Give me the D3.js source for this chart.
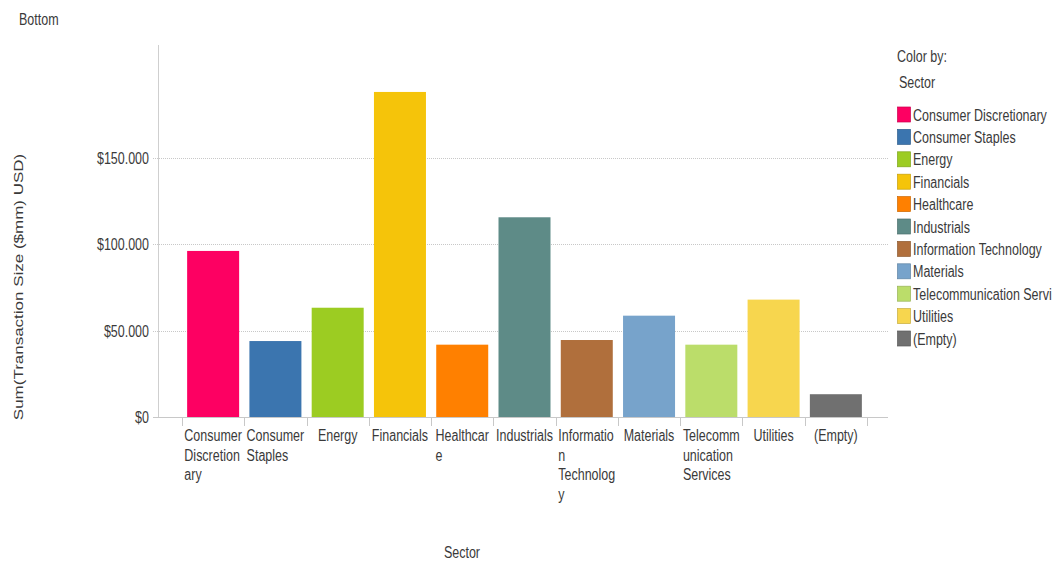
<html>
<head>
<title>Sum(Transaction Size) by Sector</title>
<script src="https://d3js.org/d3.v7.min.js"></script>
<style>
body { margin: 0; background: #fff; }
text { font-family: "Liberation Sans", Arial, sans-serif; fill: #3a3a3a; }
</style>
</head>
<body>
<div id="canvas"></div>
<script>

var sectors = ["Consumer Discretionary", "Consumer Staples", "Energy", "Financials", "Healthcare",
               "Industrials", "Information Technology", "Materials", "Telecommunication Services",
               "Utilities", "(Empty)"];

// wrapped the way the chart wraps them under each bar
var tickLines = [["Consumer", "Discretion", "ary"], ["Consumer", "Staples"], ["Energy"], ["Financials"],
                 ["Healthcar", "e"], ["Industrials"], ["Informatio", "n", "Technolog", "y"], ["Materials"],
                 ["Telecomm", "unication", "Services"], ["Utilities"], ["(Empty)"]];

var legendLabels = ["Consumer Discretionary", "Consumer Staples", "Energy", "Financials", "Healthcare",
                    "Industrials", "Information Technology", "Materials", "Telecommunication Servi",
                    "Utilities", "(Empty)"];

var values = [96200, 44000, 63300, 188300, 41900, 115700, 44600, 58700, 41900, 68000, 13200];

var colors = ["#fd0062", "#3b75af", "#9ccc22", "#f5c40a", "#ff8000", "#5e8b87",
              "#b06f3c", "#77a3cb", "#bbdd6a", "#f7d64e", "#707070"];

var yTicks = [0, 50000, 100000, 150000];

var svg = d3.select("#canvas")
            .append("svg")
            .attr("width", 1057)
            .attr("height", 561);

var x = d3.scaleBand()
          .domain(sectors)
          .range([182, 867])
          .paddingInner(0.165)
          .paddingOuter(0.0825);

var y = d3.scaleLinear()
          .domain([0, 215500])
          .range([417, 45]);

var color = d3.scaleOrdinal().domain(sectors).range(colors);

var gap = (x.step() - x.bandwidth()) / 2;
var fmt = function(v) { return "$" + d3.format(",")(v).replace(/,/g, "."); };
var squeeze = 0.78;

// the original text is set in a narrow face, so squeeze the glyphs sideways
var narrow = function(sel) {
   sel.each(function() {
      var w = this.getComputedTextLength();
      d3.select(this).attr("textLength", w * squeeze).attr("lengthAdjust", "spacingAndGlyphs");
   });
};

// grid lines
svg.append("g")
   .selectAll("line")
   .data(yTicks.filter(function(d) { return d > 0; }))
   .enter()
   .append("line")
   .attr("x1", 153)
   .attr("x2", 888)
   .attr("y1", function(d) { return Math.round(y(d)) + 0.5; })
   .attr("y2", function(d) { return Math.round(y(d)) + 0.5; })
   .style("stroke", "#c8c8c8")
   .style("stroke-dasharray", "1,1");

// axis lines
svg.append("line")
   .attr("x1", 158.5).attr("x2", 158.5)
   .attr("y1", 45).attr("y2", 418)
   .style("stroke", "#cfcfcf");

svg.append("line")
   .attr("x1", 153).attr("x2", 888)
   .attr("y1", 417.5).attr("y2", 417.5)
   .style("stroke", "#c8c8c8");

// category boundary ticks
var bounds = sectors.map(function(d) { return x(d) - gap; });
bounds.push(x(sectors[sectors.length - 1]) + x.bandwidth() + gap);

svg.append("g")
   .selectAll("line")
   .data(bounds)
   .enter()
   .append("line")
   .attr("x1", function(d) { return Math.round(d) + 0.5; })
   .attr("x2", function(d) { return Math.round(d) + 0.5; })
   .attr("y1", 418)
   .attr("y2", 426)
   .style("stroke", "#c8c8c8");

// y tick labels
svg.append("g")
   .selectAll("text")
   .data(yTicks)
   .enter()
   .append("text")
   .attr("x", 149)
   .attr("y", function(d) { return y(d) + 6; })
   .attr("text-anchor", "end")
   .style("font-size", "16px")
   .text(fmt)
   .call(narrow);

// bars
svg.append("g")
   .selectAll("rect")
   .data(values)
   .enter()
   .append("rect")
   .attr("x", function(d, i) { return x(sectors[i]); })
   .attr("width", x.bandwidth())
   .attr("y", function(d) { return y(d); })
   .attr("height", function(d) { return y(0) - y(d); })
   .attr("fill", function(d, i) { return color(sectors[i]); });

// x tick labels: block centred under the bar, lines left aligned
svg.append("g")
   .selectAll("g")
   .data(tickLines)
   .enter()
   .append("g")
   .each(function(lines, i) {
      var g = d3.select(this);
      var t = g.selectAll("text")
               .data(lines)
               .enter()
               .append("text")
               .attr("y", function(d, j) { return 441 + j * 19.7; })
               .style("font-size", "16px")
               .text(function(d) { return d; })
               .call(narrow);
      var maxW = d3.max(t.nodes(), function(n) { return +n.getAttribute("textLength"); });
      t.attr("x", x(sectors[i]) + x.bandwidth() / 2 - maxW / 2);
   });

// titles
svg.append("text")
   .attr("x", 19).attr("y", 25)
   .style("font-size", "16px")
   .text("Bottom")
   .call(narrow);

svg.append("text")
   .attr("transform", "translate(23,287) scale(0.8,1) rotate(-90)")
   .attr("text-anchor", "middle")
   .style("font-size", "17px")
   .text("Sum(Transaction Size ($mm) USD)");

svg.append("text")
   .attr("x", 462).attr("y", 558)
   .attr("text-anchor", "middle")
   .style("font-size", "16px")
   .text("Sector")
   .call(narrow);

// legend
var legend = svg.append("g");

legend.append("text")
      .attr("x", 897).attr("y", 62)
      .style("font-size", "16px")
      .text("Color by:")
      .call(narrow);

legend.append("text")
      .attr("x", 899).attr("y", 88)
      .style("font-size", "16px")
      .text("Sector")
      .call(narrow);

var rows = legend.selectAll("g.row")
                 .data(legendLabels)
                 .enter()
                 .append("g")
                 .attr("class", "row")
                 .attr("transform", function(d, i) { return "translate(897," + (114.5 + i * 22.4) + ")"; });

rows.append("rect")
    .attr("x", 0.5).attr("y", -7.5)
    .attr("width", 13).attr("height", 15)
    .attr("fill", function(d, i) { return colors[i]; })
    .style("stroke", function(d, i) { return d3.rgb(colors[i]).darker(0.6); })
    .style("stroke-width", 0.7);

rows.append("text")
    .attr("x", 16)
    .attr("y", 6)
    .style("font-size", "16px")
    .text(function(d) { return d; })
    .call(narrow);

</script>
</body>
</html>
